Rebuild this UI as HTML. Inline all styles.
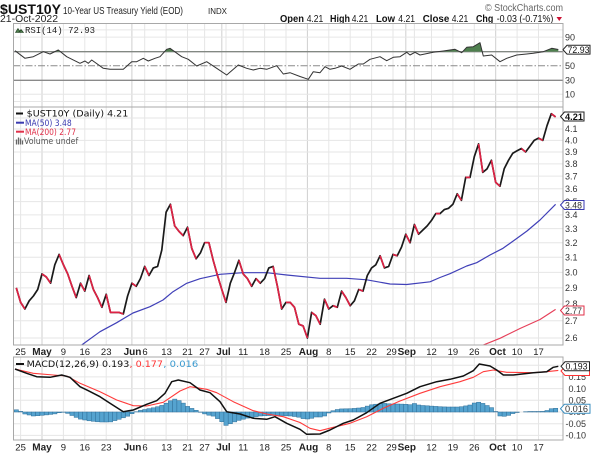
<!DOCTYPE html>
<html><head><meta charset="utf-8"><style>html,body{margin:0;padding:0;background:#fff;}svg{display:block;}</style></head>
<body>
<svg width="600" height="454" viewBox="0 0 600 454" xmlns="http://www.w3.org/2000/svg" font-family="'Liberation Sans', Arial, sans-serif">
<rect width="600" height="454" fill="#fff"/>
<defs>
<clipPath id="cm"><rect x="13" y="107" width="550" height="238"/></clipPath>
<clipPath id="cr"><rect x="13" y="23.5" width="550" height="28.2"/></clipPath>
<clipPath id="cd"><rect x="13" y="357" width="550" height="83"/></clipPath>
</defs>

<!-- Header -->
<text x="0" y="14" font-size="14" font-weight="bold" fill="#111" textLength="61" lengthAdjust="spacingAndGlyphs">$UST10Y</text>
<text x="63" y="14" font-size="10.5" fill="#222" textLength="120" lengthAdjust="spacingAndGlyphs">10-Year US Treasury Yield (EOD)</text>
<text x="208" y="14" font-size="8" fill="#222" textLength="19" lengthAdjust="spacingAndGlyphs">INDX</text>
<text x="0" y="22" font-size="10.5" fill="#222" textLength="58" lengthAdjust="spacingAndGlyphs">21-Oct-2022</text>
<text x="485" y="11" font-size="10" fill="#666" textLength="78" lengthAdjust="spacingAndGlyphs">© StockCharts.com</text>
<g font-size="10" fill="#111">
<text x="280" y="22" font-weight="bold" textLength="24" lengthAdjust="spacingAndGlyphs">Open</text>
<text x="306.7" y="22" textLength="16.6" lengthAdjust="spacingAndGlyphs">4.21</text>
<text x="330" y="22" font-weight="bold" textLength="20" lengthAdjust="spacingAndGlyphs">High</text>
<text x="351.7" y="22" textLength="16.6" lengthAdjust="spacingAndGlyphs">4.21</text>
<text x="376" y="22" font-weight="bold" textLength="19" lengthAdjust="spacingAndGlyphs">Low</text>
<text x="398.3" y="22" textLength="16.7" lengthAdjust="spacingAndGlyphs">4.21</text>
<text x="422.7" y="22" font-weight="bold" textLength="26.6" lengthAdjust="spacingAndGlyphs">Close</text>
<text x="451.7" y="22" textLength="16.6" lengthAdjust="spacingAndGlyphs">4.21</text>
<text x="476" y="22" font-weight="bold" textLength="17.3" lengthAdjust="spacingAndGlyphs">Chg</text>
<text x="496.7" y="22" textLength="56.6" lengthAdjust="spacingAndGlyphs">-0.03 (-0.71%)</text>
</g>
<polygon points="556.5,17 562,17 559.25,21" fill="#cc1133"/>

<!-- vertical grid -->
<path d="M20.6 23.5V345M63.4 23.5V345M84.8 23.5V345M106.2 23.5V345M144.7 23.5V345M166.1 23.5V345M187.5 23.5V345M204.6 23.5V345M226 23.5V345M243.2 23.5V345M264.6 23.5V345M286 23.5V345M328.8 23.5V345M350.2 23.5V345M371.6 23.5V345M393 23.5V345M414.4 23.5V345M431.5 23.5V345M452.9 23.5V345M474.3 23.5V345M517.1 23.5V345M538.5 23.5V345
M20.6 357V440M63.4 357V440M84.8 357V440M106.2 357V440M144.7 357V440M166.1 357V440M187.5 357V440M204.6 357V440M226 357V440M243.2 357V440M264.6 357V440M286 357V440M328.8 357V440M350.2 357V440M371.6 357V440M393 357V440M414.4 357V440M431.5 357V440M452.9 357V440M474.3 357V440M517.1 357V440M538.5 357V440" stroke="#e6e6e6" stroke-width="1" fill="none"/>
<path d="M42 23.5V345M131.9 23.5V345M221.8 23.5V345M307.4 23.5V345M405.8 23.5V345M495.7 23.5V345M42 357V440M131.9 357V440M221.8 357V440M307.4 357V440M405.8 357V440M495.7 357V440" stroke="#cfcfcf" stroke-width="1" fill="none"/>

<!-- horizontal grid main -->
<path d="M13 118H563M13 129H563M13 140.4H563M13 152H563M13 163.9H563M13 176.1H563M13 188.7H563M13 201.6H563M13 214.9H563M13 228.6H563M13 242.7H563M13 257.3H563M13 272.4H563M13 287.9H563M13 304H563M13 320.7H563M13 338H563" stroke="#e6e6e6" stroke-width="1" fill="none"/>
<!-- RSI grid -->
<path d="M13 29.9H563M13 37.1H563M13 94.3H563M13 101.5H563" stroke="#e6e6e6" stroke-width="1" fill="none"/>
<!-- MACD grid -->
<path d="M13 365.2H563M13 376.9H563M13 388.6H563M13 400.3H563M13 412H563M13 423.7H563M13 435.4H563" stroke="#e6e6e6" stroke-width="1" fill="none"/>

<!-- RSI reference lines -->
<line x1="13" y1="51.7" x2="563" y2="51.7" stroke="#8a8a8a" stroke-width="1.3"/>
<line x1="13" y1="80.3" x2="563" y2="80.3" stroke="#8a8a8a" stroke-width="1.3"/>
<line x1="13" y1="65.7" x2="563" y2="65.7" stroke="#8a8a8a" stroke-width="1" stroke-dasharray="7,2,1.5,2"/>

<!-- RSI fill + line -->
<polygon clip-path="url(#cr)" fill="#4f804f" points="15,50.7 25,58.3 33.3,56.7 43.3,51.7 50,54 58.3,50 66.7,56.7 80,63.3 85,61 88.3,63.3 91.7,60 103.3,68.3 110,69.3 123.3,69.3 131.7,61.7 136.7,61.7 143.3,58.3 148.3,61 155,58.3 160,56.7 166.7,49.3 170,48.3 173.3,50.7 181.7,56.7 188.3,59.3 196.7,66 206.7,61.7 216.7,68.3 226.7,75 238.3,65 246.7,68.3 253.3,70 260,68.3 266.7,69.3 276.7,65.7 283.3,74 290,72.7 300,76.5 308.3,79.3 313.3,71.7 320,72.7 325,66.7 330,69.3 335,68.3 341.7,66 350,69.3 358.3,64 363.3,64 370,59.3 380,56.7 386.7,60.7 393.3,57.3 400,56.7 406.7,52.3 410,55 415,52.3 420,55 433.3,52.3 443.3,51 455,49.3 461.7,52.7 466.7,47.3 473.3,46.7 480,42.7 483.3,56 491.7,55 500,61.7 506.7,58.3 516.7,55 526.7,54 533.3,53.3 543.3,51.7 551.7,48.3 558.3,49.5 558.3,51.7 15,51.7"/>
<polyline fill="none" stroke="#333" stroke-width="1" stroke-linejoin="round" points="15,50.7 25,58.3 33.3,56.7 43.3,51.7 50,54 58.3,50 66.7,56.7 80,63.3 85,61 88.3,63.3 91.7,60 103.3,68.3 110,69.3 123.3,69.3 131.7,61.7 136.7,61.7 143.3,58.3 148.3,61 155,58.3 160,56.7 166.7,49.3 170,48.3 173.3,50.7 181.7,56.7 188.3,59.3 196.7,66 206.7,61.7 216.7,68.3 226.7,75 238.3,65 246.7,68.3 253.3,70 260,68.3 266.7,69.3 276.7,65.7 283.3,74 290,72.7 300,76.5 308.3,79.3 313.3,71.7 320,72.7 325,66.7 330,69.3 335,68.3 341.7,66 350,69.3 358.3,64 363.3,64 370,59.3 380,56.7 386.7,60.7 393.3,57.3 400,56.7 406.7,52.3 410,55 415,52.3 420,55 433.3,52.3 443.3,51 455,49.3 461.7,52.7 466.7,47.3 473.3,46.7 480,42.7 483.3,56 491.7,55 500,61.7 506.7,58.3 516.7,55 526.7,54 533.3,53.3 543.3,51.7 551.7,48.3 558.3,49.5"/>

<!-- Main: MAs -->
<g clip-path="url(#cm)" fill="none" stroke-linejoin="round">
<polyline stroke="#4040b8" stroke-width="1.2" points="78,347.5 81.7,345 100,331.7 116.7,322.7 133,313 150,306.7 163,300 173,291.7 186.7,283.3 200,278.7 220,274.3 243,272.7 266.7,272.7 286.7,275 320,278.3 346.7,278.3 366.7,279.8 390,284 406.7,284.5 430,281.8 440,277.5 450,273.7 466.7,266 476.7,262.7 490,255 503,248.3 516.7,238.5 527,231 540,220 555.6,204.3"/>
<polyline stroke="#e6405a" stroke-width="1.2" points="476,348 482,345.5 500,338.3 520,328.5 540,319.5 555.6,309.4"/>
<!-- price black -->
<polyline stroke="#1a1a1a" stroke-width="1.7" points="16.3,287.9 20.6,302.4 24.9,309 29.2,300.8 33.4,296 37.7,289.5 42,273.9 46.3,277 50.6,283.2 54.8,264.8 59.1,254.4 63.4,264.8 67.7,273.9 72,286.3 76.2,297.6 80.5,283.2 84.8,291.1 89.1,275.5 93.4,289.5 97.6,297.6 101.9,307.3 106.2,294.3 110.5,312.4 114.8,312.4 119,312.4 123.3,314 127.6,296 131.9,283.2 136.2,286.3 140.4,278.6 144.7,266.4 149,275.5 153.3,267.9 157.6,266.4 161.8,250 166.1,212.2 170.4,204.3 174.7,225.9 179,231.4 183.2,235.6 187.5,227.2 191.8,248.5 196.1,258.8 200.4,252.9 204.6,242.7 208.9,242.7 213.2,260.3 217.5,275.5 221.8,289.5 226,302.4 230.3,283.2 234.6,272.4 238.9,260.3 243.2,273.9 247.4,278.6 251.7,286.3 256,278.6 260.3,283.2 264.6,278.6 268.8,267.9 273.1,266.4 277.4,286.3 281.7,309 286,302.4 290.2,302.4 294.5,307.3 298.8,324.2 303.1,325.9 307.4,338 311.6,312.4 315.9,315.7 320.2,324.2 324.5,299.2 328.8,309 333,305.7 337.3,307.3 341.6,291.1 345.9,297.6 350.2,305.7 354.4,300.8 358.7,289.5 363,291.1 367.3,275.5 371.6,267.9 375.8,264.8 380.1,255.8 384.4,267.9 388.7,266.4 393,254.4 397.2,255.8 401.5,247.1 405.8,234.2 410.1,242.7 414.4,224.5 418.6,234.2 422.9,230 427.2,225.9 431.5,220.4 435.8,213.6 440,213.6 444.3,209.6 448.6,208.3 452.9,204.3 457.2,193.8 461.4,200.3 465.7,177.4 470,177.4 474.3,156.7 478.6,143.9 482.8,172.4 487.1,168.8 491.4,160.3 495.7,182.4 500,186.2 504.2,168.8 508.5,160.3 512.8,153.2 517.1,150.8 521.4,148.5 525.6,152 529.9,146.2 534.2,140.4 538.5,138.1 542.8,140.4 547,125.7 551.3,113.7 555.6,116.9"/>
<path stroke="#dd2244" stroke-width="1.7" d="M16.3,287.9L20.6,302.4L24.9,309M42,273.9L46.3,277L50.6,283.2M59.1,254.4L63.4,264.8L67.7,273.9L72,286.3L76.2,297.6M80.5,283.2L84.8,291.1M89.1,275.5L93.4,289.5L97.6,297.6L101.9,307.3M106.2,294.3L110.5,312.4L114.8,312.4L119,312.4L123.3,314M131.9,283.2L136.2,286.3M144.7,266.4L149,275.5M170.4,204.3L174.7,225.9L179,231.4L183.2,235.6M187.5,227.2L191.8,248.5L196.1,258.8M204.6,242.7L208.9,242.7L213.2,260.3L217.5,275.5L221.8,289.5L226,302.4M238.9,260.3L243.2,273.9L247.4,278.6L251.7,286.3M256,278.6L260.3,283.2M273.1,266.4L277.4,286.3L281.7,309M286,302.4L290.2,302.4L294.5,307.3L298.8,324.2L303.1,325.9L307.4,338M311.6,312.4L315.9,315.7L320.2,324.2M324.5,299.2L328.8,309M333,305.7L337.3,307.3M341.6,291.1L345.9,297.6L350.2,305.7M358.7,289.5L363,291.1M380.1,255.8L384.4,267.9M393,254.4L397.2,255.8M405.8,234.2L410.1,242.7M414.4,224.5L418.6,234.2M435.8,213.6L440,213.6M457.2,193.8L461.4,200.3M465.7,177.4L470,177.4M478.6,143.9L482.8,172.4M491.4,160.3L495.7,182.4L500,186.2M521.4,148.5L525.6,152M538.5,138.1L542.8,140.4M551.3,113.7L555.6,116.9"/>
</g>

<!-- MACD histogram -->
<g clip-path="url(#cd)" fill="#55a3cf" stroke="#2f6f99" stroke-width="0.5">
<rect x="14.2" y="409.8" width="4.28" height="2.2"/><rect x="18.5" y="411.4" width="4.28" height="0.6"/><rect x="22.8" y="412" width="4.28" height="2"/><rect x="27.1" y="412" width="4.28" height="3"/><rect x="31.3" y="412" width="4.28" height="4"/><rect x="35.6" y="412" width="4.28" height="3.7"/><rect x="39.9" y="412" width="4.28" height="3.3"/><rect x="44.2" y="412" width="4.28" height="2.9"/><rect x="48.5" y="412" width="4.28" height="2.4"/><rect x="52.7" y="412" width="4.28" height="1.9"/><rect x="57" y="412" width="4.28" height="0.7"/><rect x="61.3" y="412" width="4.28" height="0.3"/><rect x="65.6" y="412" width="4.28" height="1.4"/><rect x="69.9" y="412" width="4.28" height="3.5"/><rect x="74.1" y="412" width="4.28" height="5.4"/><rect x="78.4" y="412" width="4.28" height="7.1"/><rect x="82.7" y="412" width="4.28" height="8"/><rect x="87" y="412" width="4.28" height="8.8"/><rect x="91.3" y="412" width="4.28" height="9.3"/><rect x="95.5" y="412" width="4.28" height="9.8"/><rect x="99.8" y="412" width="4.28" height="10"/><rect x="104.1" y="412" width="4.28" height="10"/><rect x="108.4" y="412" width="4.28" height="9.9"/><rect x="112.7" y="412" width="4.28" height="8.6"/><rect x="116.9" y="412" width="4.28" height="7.3"/><rect x="121.2" y="412" width="4.28" height="5.8"/><rect x="125.5" y="412" width="4.28" height="4.2"/><rect x="129.8" y="412" width="4.28" height="1.7"/><rect x="134.1" y="411.7" width="4.28" height="0.3"/><rect x="138.3" y="410.4" width="4.28" height="1.6"/><rect x="142.6" y="409.5" width="4.28" height="2.5"/><rect x="146.9" y="408.6" width="4.28" height="3.4"/><rect x="151.2" y="407.8" width="4.28" height="4.2"/><rect x="155.5" y="406.7" width="4.28" height="5.3"/><rect x="159.7" y="405.4" width="4.28" height="6.6"/><rect x="164" y="403.2" width="4.28" height="8.8"/><rect x="168.3" y="400.8" width="4.28" height="11.2"/><rect x="172.6" y="399.1" width="4.28" height="12.9"/><rect x="176.9" y="400.6" width="4.28" height="11.4"/><rect x="181.1" y="403.1" width="4.28" height="8.9"/><rect x="185.4" y="406.4" width="4.28" height="5.6"/><rect x="189.7" y="408.4" width="4.28" height="3.6"/><rect x="194" y="410.3" width="4.28" height="1.7"/><rect x="198.3" y="412" width="4.28" height="0.3"/><rect x="202.5" y="412" width="4.28" height="1.9"/><rect x="206.8" y="412" width="4.28" height="3.2"/><rect x="211.1" y="412" width="4.28" height="4.1"/><rect x="215.4" y="412" width="4.28" height="6.6"/><rect x="219.7" y="412" width="4.28" height="9.7"/><rect x="223.9" y="412" width="4.28" height="13.4"/><rect x="228.2" y="412" width="4.28" height="11.7"/><rect x="232.5" y="412" width="4.28" height="9.9"/><rect x="236.8" y="412" width="4.28" height="8.4"/><rect x="241.1" y="412" width="4.28" height="7.2"/><rect x="245.3" y="412" width="4.28" height="6.1"/><rect x="249.6" y="412" width="4.28" height="5.3"/><rect x="253.9" y="412" width="4.28" height="4.6"/><rect x="258.2" y="412" width="4.28" height="4"/><rect x="262.5" y="412" width="4.28" height="3.8"/><rect x="266.7" y="412" width="4.28" height="3.6"/><rect x="271" y="412" width="4.28" height="3.5"/><rect x="275.3" y="412" width="4.28" height="3.5"/><rect x="279.6" y="412" width="4.28" height="3.6"/><rect x="283.9" y="412" width="4.28" height="3.8"/><rect x="288.1" y="412" width="4.28" height="4"/><rect x="292.4" y="412" width="4.28" height="4.5"/><rect x="296.7" y="412" width="4.28" height="5.2"/><rect x="301" y="412" width="4.28" height="6.6"/><rect x="305.3" y="412" width="4.28" height="7"/><rect x="309.5" y="412" width="4.28" height="6.3"/><rect x="313.8" y="412" width="4.28" height="5"/><rect x="318.1" y="412" width="4.28" height="5"/><rect x="322.4" y="412" width="4.28" height="4"/><rect x="326.7" y="412" width="4.28" height="1"/><rect x="330.9" y="410.7" width="4.28" height="1.3"/><rect x="335.2" y="409.5" width="4.28" height="2.5"/><rect x="339.5" y="408.9" width="4.28" height="3.1"/><rect x="343.8" y="408.8" width="4.28" height="3.2"/><rect x="348.1" y="408.7" width="4.28" height="3.3"/><rect x="352.3" y="408.4" width="4.28" height="3.6"/><rect x="356.6" y="408" width="4.28" height="4"/><rect x="360.9" y="407.5" width="4.28" height="4.5"/><rect x="365.2" y="406.1" width="4.28" height="5.9"/><rect x="369.5" y="404.8" width="4.28" height="7.2"/><rect x="373.7" y="404.2" width="4.28" height="7.8"/><rect x="378" y="403.7" width="4.28" height="8.3"/><rect x="382.3" y="403.4" width="4.28" height="8.6"/><rect x="386.6" y="403.8" width="4.28" height="8.2"/><rect x="390.9" y="404" width="4.28" height="8"/><rect x="395.1" y="404" width="4.28" height="8"/><rect x="399.4" y="404.1" width="4.28" height="7.9"/><rect x="403.7" y="404.3" width="4.28" height="7.7"/><rect x="408" y="404.7" width="4.28" height="7.3"/><rect x="412.3" y="403.5" width="4.28" height="8.5"/><rect x="416.5" y="405" width="4.28" height="7"/><rect x="420.8" y="405.5" width="4.28" height="6.5"/><rect x="425.1" y="405.8" width="4.28" height="6.2"/><rect x="429.4" y="406.1" width="4.28" height="5.9"/><rect x="433.7" y="406.4" width="4.28" height="5.6"/><rect x="437.9" y="406.7" width="4.28" height="5.3"/><rect x="442.2" y="406.9" width="4.28" height="5.1"/><rect x="446.5" y="407" width="4.28" height="5"/><rect x="450.8" y="407" width="4.28" height="5"/><rect x="455.1" y="407" width="4.28" height="5"/><rect x="459.3" y="406.7" width="4.28" height="5.3"/><rect x="463.6" y="405.9" width="4.28" height="6.1"/><rect x="467.9" y="405" width="4.28" height="7"/><rect x="472.2" y="403" width="4.28" height="9"/><rect x="476.5" y="402.2" width="4.28" height="9.8"/><rect x="480.7" y="403.4" width="4.28" height="8.6"/><rect x="485" y="405.5" width="4.28" height="6.5"/><rect x="489.3" y="407.6" width="4.28" height="4.4"/><rect x="493.6" y="411.5" width="4.28" height="0.5"/><rect x="497.9" y="412" width="4.28" height="4"/><rect x="502.1" y="412" width="4.28" height="4.3"/><rect x="506.4" y="412" width="4.28" height="3.4"/><rect x="510.7" y="412" width="4.28" height="1.6"/><rect x="515" y="412" width="4.28" height="0.5"/><rect x="523.5" y="411.7" width="4.28" height="0.3"/><rect x="527.8" y="411.5" width="4.28" height="0.5"/><rect x="532.1" y="411.5" width="4.28" height="0.5"/><rect x="536.4" y="411.5" width="4.28" height="0.5"/><rect x="540.7" y="411.4" width="4.28" height="0.6"/><rect x="544.9" y="410.5" width="4.28" height="1.5"/><rect x="549.2" y="408.7" width="4.28" height="3.3"/><rect x="553.5" y="408.3" width="4.28" height="3.7"/>
</g>
<!-- MACD lines -->
<g clip-path="url(#cd)" fill="none" stroke-linejoin="round">
<polyline stroke="#ff3b3b" stroke-width="1.1" points="15,369 33.3,373.3 53.3,375 66.7,376 80,383.3 100,391.7 116.7,400 133.3,405.7 146.7,406 163.3,402.3 180,391 190,386.7 206.7,389.3 216.7,392.7 233.3,401.7 253.3,410.7 266.7,414 283.3,416.7 300,422.5 310,428.3 320,430.7 333.3,427.3 350,423.3 366.7,416.7 383.3,408.3 400,401 420,393.3 440,386.7 460,381.7 473.3,377.3 483.3,371.7 493.3,370 506.7,372.3 533.3,372.7 546.7,371.7 558.3,370.4"/>
<polyline stroke="#111" stroke-width="1.5" points="15,369 26.7,373.3 36.7,376.7 50,377.3 61.7,375 70,377.3 80,386.7 88.3,390.7 100,396.7 110,403.3 123.3,411.7 133.3,410 146.7,404.3 156.7,400.7 165,393.3 171.7,381.7 178.3,380 190,382.7 200,390 210,392.7 220,401.7 226.7,411.7 240,414 253.3,418.3 266.7,419.3 275,416.7 286.7,423.3 300,429.3 306.7,434.3 320,434 330,430 343.3,423.3 353.3,420 366.7,412.7 380,403.3 393.3,398.3 406.7,393.3 420,386.7 436.7,381.7 450,379.3 463.3,376 473.3,370.7 479.3,364 490,366 496.7,370 503.3,375 513.3,375 533.3,372.7 546.7,371.7 553.3,367.3 558.3,366.3"/>
</g>

<!-- panel borders -->
<g fill="none" stroke="#a8a8a8" stroke-width="1">
<rect x="13.5" y="23.5" width="549.5" height="83.5"/>
<rect x="13.5" y="107" width="549.5" height="238"/>
<rect x="13.5" y="357" width="549.5" height="83"/>
</g>

<!-- legends -->
<path d="M18 28.5l2.5 4h-5zM21 29.5l2.5 3h-5z" fill="#4f804f" stroke="#1a3a1a" stroke-width="0.6"/>
<text x="25" y="33" font-family="'Liberation Mono', monospace" font-size="9" fill="#222" textLength="70" lengthAdjust="spacingAndGlyphs">RSI(14) 72.93</text>

<g font-family="'DejaVu Sans', Verdana, sans-serif" font-size="8.5">
<line x1="16" y1="113.5" x2="23" y2="113.5" stroke="#111" stroke-width="2"/>
<text x="26.7" y="116.5" fill="#111" textLength="101.6" lengthAdjust="spacingAndGlyphs">$UST10Y (Daily) 4.21</text>
<line x1="16" y1="122.7" x2="24" y2="122.7" stroke="#3a3ab0" stroke-width="2"/>
<text x="25" y="125.8" fill="#3a3ab0" textLength="46.7" lengthAdjust="spacingAndGlyphs">MA(50) 3.48</text>
<line x1="16" y1="131.7" x2="24" y2="131.7" stroke="#e0304a" stroke-width="2"/>
<text x="25" y="134.8" fill="#e0304a" textLength="51" lengthAdjust="spacingAndGlyphs">MA(200) 2.77</text>
<path d="M16.5 144.5V139.5M18.5 144.5V137.5M20.5 144.5V138.5M22.5 144.5V140.5" stroke="#666" stroke-width="1.3"/>
<text x="24" y="144.2" fill="#555" textLength="54.3" lengthAdjust="spacingAndGlyphs">Volume undef</text>
<line x1="16" y1="364" x2="24" y2="364" stroke="#111" stroke-width="2"/>
<text x="26.7" y="367.2" fill="#111" textLength="102.6" lengthAdjust="spacingAndGlyphs">MACD(12,26,9) 0.193</text>
<text x="129.5" y="367.2" fill="#ff3333" textLength="33.5" lengthAdjust="spacingAndGlyphs">, 0.177</text>
<text x="163.3" y="367.2" fill="#3a9ad0" textLength="35" lengthAdjust="spacingAndGlyphs">, 0.016</text>
</g>

<!-- right axis labels -->
<g font-size="9" fill="#333">
<text x="565" y="40.3">90</text><text x="565" y="68.9">50</text><text x="565" y="83.5">30</text><text x="565" y="97.5">10</text>
<text x="565" y="121.2">4.2</text><text x="565" y="132.2">4.1</text><text x="565" y="143.6">4.0</text><text x="565" y="155.2">3.9</text><text x="565" y="167.1">3.8</text><text x="565" y="179.3">3.7</text><text x="565" y="191.9">3.6</text><text x="565" y="204.8">3.5</text><text x="565" y="218.1">3.4</text><text x="565" y="231.8">3.3</text><text x="565" y="245.9">3.2</text><text x="565" y="260.5">3.1</text><text x="565" y="275.6">3.0</text><text x="565" y="291.1">2.9</text><text x="565" y="307.2">2.8</text><text x="565" y="323.9">2.7</text><text x="565" y="341.2">2.6</text>
<g text-anchor="end"><text x="586" y="380.1">0.15</text><text x="586" y="391.8">0.10</text><text x="586" y="403.5">0.05</text><text x="586" y="415.2">0.00</text><text x="586" y="426.9">-0.05</text><text x="586" y="438.6">-0.10</text></g>
</g>

<!-- value boxes -->
<g font-size="9" stroke-width="1">
<polygon points="563,49.7 567,45.3 590,45.3 590,54.1 567,54.1" fill="#fff" stroke="#222"/>
<text x="567.5" y="52.9" fill="#111" stroke="none" textLength="22" lengthAdjust="spacingAndGlyphs">72.93</text>
<polygon points="560.5,116.5 564.5,112 584,112 584,121 564.5,121" fill="#fff" stroke="#222"/>
<text x="565" y="119.8" fill="#111" stroke="none" font-weight="bold" textLength="18" lengthAdjust="spacingAndGlyphs">4.21</text>
<polygon points="560.5,205 564.5,200.5 584,200.5 584,209.5 564.5,209.5" fill="#fff" stroke="#3a3ab0"/>
<text x="565" y="208.3" fill="#333" stroke="none" textLength="17" lengthAdjust="spacingAndGlyphs">3.48</text>
<polygon points="560.5,310.5 564.5,306 584,306 584,315 564.5,315" fill="#fff" stroke="#e0304a"/>
<text x="565" y="313.8" fill="#333" stroke="none" textLength="17" lengthAdjust="spacingAndGlyphs">2.77</text>
<polygon points="561,371 565,366.5 589.5,366.5 589.5,375.5 565,375.5" fill="#fff" stroke="#ff3333"/>
<polygon points="561,366.3 565,361.8 589.5,361.8 589.5,370.8 565,370.8" fill="#fff" stroke="#222"/>
<text x="565.5" y="369.6" fill="#111" stroke="none" textLength="22" lengthAdjust="spacingAndGlyphs">0.193</text>
<polygon points="560.5,408.7 564.5,404.2 590,404.2 590,413.2 564.5,413.2" fill="#fff" stroke="#3b8fc0"/>
<text x="565" y="412" fill="#333" stroke="none" textLength="23" lengthAdjust="spacingAndGlyphs">0.016</text>
</g>

<!-- x-axis labels -->
<g font-size="9.5" fill="#222" text-anchor="middle">
<text x="20.6" y="355">25</text><text x="42" y="355" font-weight="bold" font-size="10">May</text><text x="63.4" y="355">9</text><text x="84.8" y="355">16</text><text x="106.2" y="355">23</text><text x="132.5" y="355" font-weight="bold" font-size="10">Jun</text><text x="145" y="355">6</text><text x="166.6" y="355">13</text><text x="187.5" y="355">21</text><text x="204.6" y="355">27</text><text x="223.5" y="355" font-weight="bold" font-size="10">Jul</text><text x="243.2" y="355">11</text><text x="264.6" y="355">18</text><text x="286" y="355">25</text><text x="308.5" y="355" font-weight="bold" font-size="10">Aug</text><text x="328.8" y="355">8</text><text x="350.2" y="355">15</text><text x="371.6" y="355">22</text><text x="391.5" y="355">29</text><text x="406.8" y="355" font-weight="bold" font-size="10">Sep</text><text x="431.5" y="355">12</text><text x="452.9" y="355">19</text><text x="474.3" y="355">26</text><text x="497.5" y="355" font-weight="bold" font-size="10">Oct</text><text x="517.1" y="355">10</text><text x="538.5" y="355">17</text>
</g>
<g font-size="9.5" fill="#222" text-anchor="middle">
<text x="20.6" y="450.5">25</text><text x="42" y="450.5" font-weight="bold" font-size="10">May</text><text x="63.4" y="450.5">9</text><text x="84.8" y="450.5">16</text><text x="106.2" y="450.5">23</text><text x="132.5" y="450.5" font-weight="bold" font-size="10">Jun</text><text x="145" y="450.5">6</text><text x="166.6" y="450.5">13</text><text x="187.5" y="450.5">21</text><text x="204.6" y="450.5">27</text><text x="223.5" y="450.5" font-weight="bold" font-size="10">Jul</text><text x="243.2" y="450.5">11</text><text x="264.6" y="450.5">18</text><text x="286" y="450.5">25</text><text x="308.5" y="450.5" font-weight="bold" font-size="10">Aug</text><text x="328.8" y="450.5">8</text><text x="350.2" y="450.5">15</text><text x="371.6" y="450.5">22</text><text x="391.5" y="450.5">29</text><text x="406.8" y="450.5" font-weight="bold" font-size="10">Sep</text><text x="431.5" y="450.5">12</text><text x="452.9" y="450.5">19</text><text x="474.3" y="450.5">26</text><text x="497.5" y="450.5" font-weight="bold" font-size="10">Oct</text><text x="517.1" y="450.5">10</text><text x="538.5" y="450.5">17</text>
</g>
</svg>
</body></html>
